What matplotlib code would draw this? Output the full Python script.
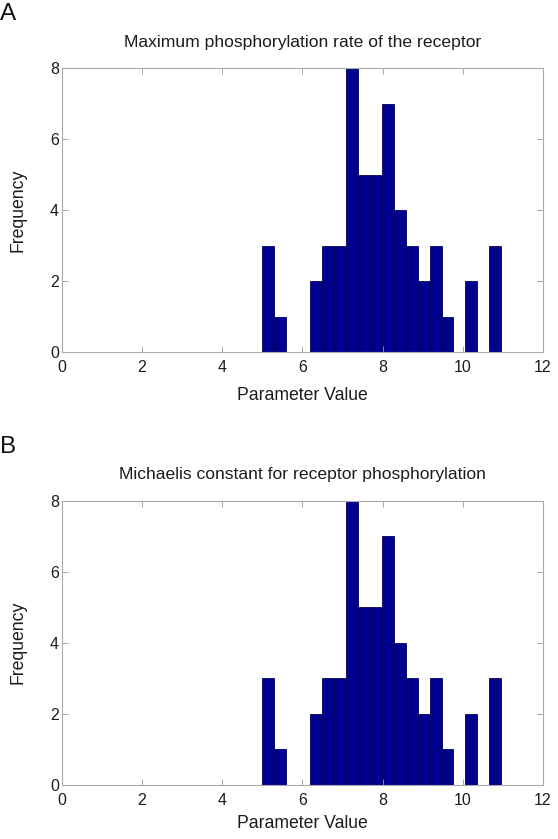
import numpy as np
import matplotlib
matplotlib.use("Agg")
import matplotlib.pyplot as plt

plt.rcParams["font.family"] = ["Liberation Sans", "DejaVu Sans"]

# histogram: 20 bins between these limits
bin_lo, bin_hi = 5.0, 10.96
counts_a = [3, 1, 0, 0, 2, 3, 3, 8, 5, 5, 7, 4, 3, 2, 3, 1, 0, 2, 0, 3]
counts_b = [3, 1, 0, 0, 2, 3, 3, 8, 5, 5, 7, 4, 3, 2, 3, 1, 0, 2, 0, 3]
titles = ["Maximum phosphorylation rate of the receptor",
          "Michaelis constant for receptor phosphorylation"]
letters = ["A", "B"]
xticks = [0, 2, 4, 6, 8, 10, 12]
yticks = [0, 2, 4, 6, 8]

W, H = 558, 839
fig = plt.figure(figsize=(W / 100, H / 100), dpi=100)

# axes boxes in pixels: left, top, right, bottom
boxes = [(61.7, 68, 543, 352), (61.7, 500.5, 543, 785)]
title_y = [43, 474]
letter_y = [13.5, 447]
xlabel_y = [395, 823]

edges = np.linspace(bin_lo, bin_hi, 21)
centers = (edges[:-1] + edges[1:]) / 2
dark = "#1c1c1c"

for i, counts in enumerate([counts_a, counts_b]):
    l, t, r, b = boxes[i]
    ax = fig.add_axes([l / W, 1 - b / H, (r - l) / W, (b - t) / H])
    ax.hist(centers, bins=edges, weights=counts, color="#00008f",
            edgecolor="#00005a", linewidth=0.6)
    ax.set_xlim(0, 12)
    ax.set_ylim(0, 8)
    ax.set_xticks(xticks)
    ax.set_yticks(yticks)
    ax.tick_params(direction="in", top=True, right=True, length=4,
                   width=0.6, colors="#999999", labelcolor=dark,
                   labelsize=11.5)
    ax.tick_params(axis="x", pad=5.5)
    ax.tick_params(axis="y", pad=2)
    for s in ax.spines.values():
        s.set_color("#aaaaaa")
        s.set_linewidth(0.8)
    fig.text((l + r) / 2 / W, 1 - xlabel_y[i] / H, "Parameter Value",
             ha="center", va="center", fontsize=12.7, color=dark)
    fig.text(18.5 / W, 1 - (t + b) / 2 / H, "Frequency", rotation=90,
             ha="center", va="center", fontsize=12.7, color=dark)
    fig.text((l + r) / 2 / W, 1 - title_y[i] / H, titles[i], ha="center",
             va="center", fontsize=12.6, color=dark)
    fig.text(0, 1 - letter_y[i] / H, letters[i], ha="left", va="center",
             fontsize=17.5, color="#111111")

fig.savefig("out.png", dpi=100)
